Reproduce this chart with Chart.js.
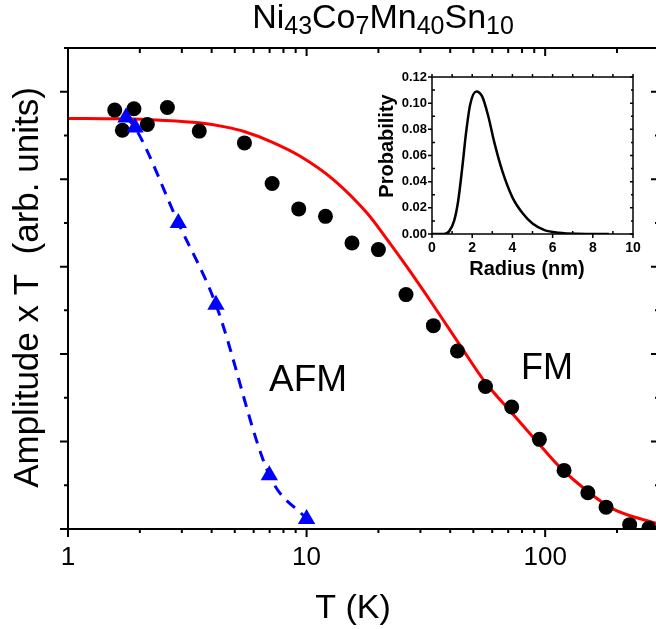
<!DOCTYPE html>
<html>
<head>
<meta charset="utf-8">
<script src="https://cdn.jsdelivr.net/npm/chart.js@4.4.1/dist/chart.umd.min.js"></script>
<style>
  html, body { margin: 0; padding: 0; background: #fff; overflow: hidden; }
  #wrap { position: relative; width: 656px; height: 629px; overflow: hidden; }
  #main { position: absolute; left: 0; top: 0; }
  #inset { position: absolute; left: 370px; top: 62px; }
</style>
</head>
<body>
<div id="wrap">
  <canvas id="main" width="670" height="629"></canvas>
  <canvas id="inset" width="285" height="225"></canvas>
</div>
<script>
// FM phase: amplitude x T (black circles)
const fmTemp = [1.57, 1.69, 1.89, 2.15, 2.61, 3.55, 5.49, 7.17, 9.27, 12.0, 15.5, 20.0, 26.1, 34.0, 42.9, 56.2, 72.4, 94.6, 120, 151, 180, 226, 272];
const fmAmp = [0.958, 0.912, 0.961, 0.925, 0.964, 0.910, 0.883, 0.790, 0.732, 0.715, 0.654, 0.639, 0.536, 0.465, 0.407, 0.326, 0.279, 0.205, 0.134, 0.083, 0.050, 0.010, 0.002];

// AFM phase (blue triangles, dashed guide)
const afmTemp = [1.75, 1.91, 2.90, 4.17, 6.98, 10.0];
const afmAmp = [0.941, 0.918, 0.700, 0.513, 0.123, 0.023];

// fitted FM curve (red)
const fitTemp = [1, 1.65, 2.43, 3.54, 4.6, 5.47, 7.16, 9.37, 12.95, 17.88, 21.7, 26.3, 33.0, 44.0, 56.2, 72.4, 92.3, 115, 149, 192, 300];
const fitAmp = [0.939, 0.938, 0.935, 0.929, 0.919, 0.909, 0.885, 0.853, 0.799, 0.723, 0.663, 0.600, 0.522, 0.420, 0.335, 0.266, 0.200, 0.142, 0.088, 0.046, 0.011];

// inset: cluster size distribution
const radius = [0, 0.6, 0.85, 1.1, 1.3, 1.5, 1.7, 1.9, 2.2, 2.5, 2.8, 3.1, 3.5, 4.0, 4.5, 5.0, 5.6, 6.3, 7.2, 8.8];
const probability = [0, 0, 0.002, 0.010, 0.025, 0.050, 0.078, 0.099, 0.109, 0.105, 0.090, 0.070, 0.048, 0.028, 0.016, 0.008, 0.003, 0.001, 0.0002, 0];

// tick positions
const xMajorTicks = [1, 10, 100];
const xMinorTicks = [2, 3, 4, 5, 6, 7, 8, 9, 20, 30, 40, 50, 60, 70, 80, 90, 200, 300];
const yMajorTicks = [0, 0.2, 0.4, 0.6, 0.8, 1.0];
const yMinorTicks = [0.1, 0.3, 0.5, 0.7, 0.9, 1.1];
const insetXTicks = [0, 2, 4, 6, 8, 10];
const insetXMinor = [1, 3, 5, 7, 9];
const insetYTicks = [0, 0.02, 0.04, 0.06, 0.08, 0.10, 0.12];
const insetYMinor = [0.01, 0.03, 0.05, 0.07, 0.09, 0.11];

const FONT = '"Liberation Sans", Arial, sans-serif';
const pts = (xs, ys) => xs.map((x, i) => ({ x, y: ys[i] }));

// box frame with tick marks on all four sides; sign of length = direction
const framePlugin = {
  id: 'frame',
  afterDatasetsDraw(chart, args, o) {
    const { ctx, chartArea: a } = chart;
    const sx = chart.scales.x, sy = chart.scales.y;
    ctx.save();
    ctx.strokeStyle = '#000';
    ctx.lineWidth = o.lineWidth;
    ctx.strokeRect(a.left, a.top, a.right - a.left, a.bottom - a.top);
    ctx.beginPath();
    const hTicks = (vals, yPos, len) => vals.forEach(v => {
      const px = sx.getPixelForValue(v);
      ctx.moveTo(px, yPos); ctx.lineTo(px, yPos + len);
    });
    const vTicks = (vals, xPos, len) => vals.forEach(v => {
      const py = sy.getPixelForValue(v);
      ctx.moveTo(xPos, py); ctx.lineTo(xPos + len, py);
    });
    hTicks(o.xMajor, a.bottom, o.bottom[0]); hTicks(o.xMinor, a.bottom, o.bottom[1]);
    hTicks(o.xMajor, a.top, o.top[0]); hTicks(o.xMinor, a.top, o.top[1]);
    vTicks(o.yMajor, a.left, o.left[0]); vTicks(o.yMinor, a.left, o.left[1]);
    vTicks(o.yMajor, a.right, o.right[0]); vTicks(o.yMinor, a.right, o.right[1]);
    ctx.stroke();
    ctx.restore();
  }
};

const mainText = {
  id: 'mainText',
  afterDraw(chart) {
    const ctx = chart.ctx;
    ctx.save();
    ctx.fillStyle = '#000';
    ctx.textBaseline = 'alphabetic';

    // title with subscripts
    const parts = [['Ni', 0], ['43', 1], ['Co', 0], ['7', 1], ['Mn', 0], ['40', 1], ['Sn', 0], ['10', 1]];
    const big = '34px ' + FONT, small = '25px ' + FONT;
    let total = 0;
    parts.forEach(([t, s]) => { ctx.font = s ? small : big; total += ctx.measureText(t).width; });
    let x = 383 - total / 2;
    ctx.textAlign = 'left';
    parts.forEach(([t, s]) => {
      ctx.font = s ? small : big;
      ctx.fillText(t, x, s ? 34 : 28);
      x += ctx.measureText(t).width;
    });

    ctx.font = '37px ' + FONT;
    ctx.fillText('AFM', 269, 391);
    ctx.font = '36px ' + FONT;
    ctx.fillText('FM', 521, 379);

    ctx.textAlign = 'center';
    ctx.font = '34px ' + FONT;
    ctx.fillText('T (K)', 353, 618);

    ctx.translate(37.5, 287.5);
    ctx.rotate(-Math.PI / 2);
    ctx.font = '35px ' + FONT;
    ctx.fillText('Amplitude x T  (arb. units)', 0, 0);
    ctx.restore();
  }
};

const insetText = {
  id: 'insetText',
  afterDraw(chart) {
    const ctx = chart.ctx;
    ctx.save();
    ctx.fillStyle = '#000';
    ctx.textAlign = 'center';
    ctx.textBaseline = 'alphabetic';
    ctx.font = 'bold 20px ' + FONT;
    ctx.fillText('Radius (nm)', 157, 213);
    ctx.translate(23, 84);
    ctx.rotate(-Math.PI / 2);
    ctx.fillText('Probability', 0, 0);
    ctx.restore();
  }
};

new Chart(document.getElementById('main'), {
  type: 'scatter',
  data: {
    datasets: [
      { data: pts(fitTemp, fitAmp), showLine: true, borderColor: '#ff0000', borderWidth: 3,
        pointRadius: 0, cubicInterpolationMode: 'monotone', order: 4 },
      { data: pts(fmTemp, fmAmp), pointRadius: 7.5, backgroundColor: '#000', borderWidth: 0, order: 3 },
      { data: pts(afmTemp, afmAmp), showLine: true, borderColor: '#0000ff', borderWidth: 3,
        borderDash: [11, 8], pointRadius: 0, cubicInterpolationMode: 'monotone', order: 2 },
      { data: pts(afmTemp, afmAmp), pointStyle: 'triangle', pointRadius: 10,
        backgroundColor: '#0000ff', borderWidth: 0, order: 1 }
    ]
  },
  options: {
    responsive: false,
    animation: false,
    events: [],
    layout: { padding: { top: 48, right: 11, left: 0, bottom: 0 } },
    plugins: {
      legend: { display: false },
      tooltip: { enabled: false },
      frame: {
        lineWidth: 2,
        xMajor: xMajorTicks, xMinor: xMinorTicks, yMajor: yMajorTicks, yMinor: yMinorTicks,
        bottom: [8, 4], top: [8, 5], left: [-8, -4], right: [-8, -4]
      }
    },
    scales: {
      x: {
        type: 'logarithmic', min: 1, max: 300,
        grid: { display: false, drawTicks: false },
        border: { display: false },
        afterBuildTicks: s => { s.ticks = xMajorTicks.map(v => ({ value: v })); },
        ticks: { callback: v => String(v), color: '#000', font: { family: FONT, size: 26 },
                 padding: 13, maxRotation: 0, autoSkip: false },
        afterFit: s => { s.height = 100; }
      },
      y: {
        min: 0, max: 1.1,
        grid: { display: false, drawTicks: false },
        border: { display: false },
        ticks: { display: false },
        afterFit: s => { s.width = 68; }
      }
    }
  },
  plugins: [framePlugin, mainText]
});

new Chart(document.getElementById('inset'), {
  type: 'scatter',
  data: {
    datasets: [
      { data: pts(radius, probability), showLine: true, borderColor: '#000', borderWidth: 2.5,
        pointRadius: 0, cubicInterpolationMode: 'monotone' }
    ]
  },
  options: {
    responsive: false,
    animation: false,
    events: [],
    layout: { padding: { top: 15, right: 22, left: 0, bottom: 0 } },
    plugins: {
      legend: { display: false },
      tooltip: { enabled: false },
      frame: {
        lineWidth: 1.5,
        xMajor: insetXTicks, xMinor: insetXMinor, yMajor: insetYTicks, yMinor: insetYMinor,
        bottom: [4, -3], top: [-3, -3], left: [-4, 3], right: [-3, -2]
      }
    },
    scales: {
      x: {
        min: 0, max: 10,
        grid: { display: false, drawTicks: false },
        border: { display: false },
        afterBuildTicks: s => { s.ticks = insetXTicks.map(v => ({ value: v })); },
        ticks: { callback: v => String(v), color: '#000', font: { family: FONT, size: 14, weight: 'bold' },
                 padding: 6, maxRotation: 0, autoSkip: false },
        afterFit: s => { s.height = 53; }
      },
      y: {
        min: 0, max: 0.12,
        grid: { display: false, drawTicks: false },
        border: { display: false },
        afterBuildTicks: s => { s.ticks = insetYTicks.map(v => ({ value: v })); },
        ticks: { callback: v => v.toFixed(2), color: '#000', font: { family: FONT, size: 13, weight: 'bold' },
                 padding: 5, autoSkip: false },
        afterFit: s => { s.width = 62; }
      }
    }
  },
  plugins: [framePlugin, insetText]
});
</script>
</body>
</html>
